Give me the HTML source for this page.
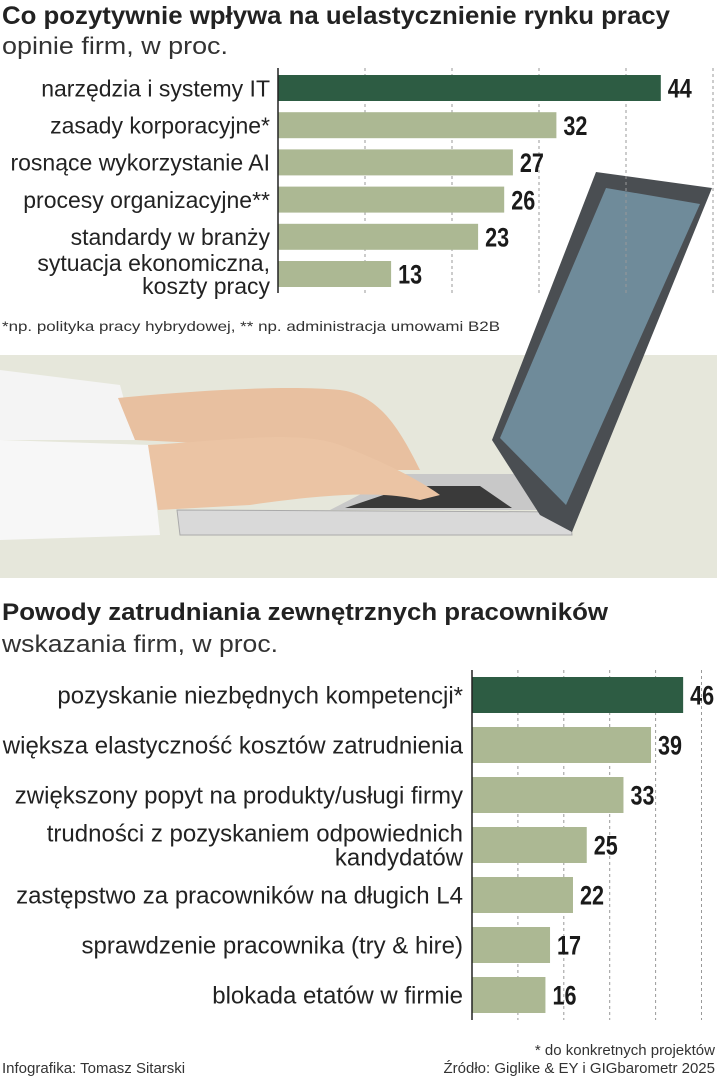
<!DOCTYPE html>
<html><head><meta charset="utf-8"><style>
html,body{margin:0;padding:0;background:#fff;}
svg{display:block;font-family:"Liberation Sans",sans-serif;}
</style></head><body>
<svg id="root" width="717" height="1080" viewBox="0 0 717 1080" xmlns="http://www.w3.org/2000/svg">
<text x="2" y="24" font-size="25" font-weight="bold" fill="#222" textLength="668" lengthAdjust="spacingAndGlyphs">Co pozytywnie wpływa na uelastycznienie rynku pracy</text>
<text x="2" y="54" font-size="24" fill="#333" textLength="226" lengthAdjust="spacingAndGlyphs">opinie firm, w proc.</text>

<g>
<rect x="0" y="355" width="717" height="223" fill="#e6e7db"/>
<polygon points="177,510 570,512 572,535 180,535" fill="#d9d9d9" stroke="#aaa"/>
<polygon points="400,474 520,474 540,510 330,510" fill="#c8c8c8"/>
<polygon points="410,486 480,486 512,508 345,508" fill="#3a3a3a"/>
<polygon points="596,172 712,188 572,532 540,515 492,440" fill="#4a4e52"/>
<polygon points="606,188 700,204 566,505 500,438" fill="#6f8b9a"/>
<path d="M0,370 L120,385 L135,440 L0,440 Z" fill="#f4f4f4"/>
<path d="M0,440 L150,445 L160,535 L0,540 Z" fill="#f7f7f7"/>
<path d="M118,398 C200,390 290,385 340,390 C380,395 400,430 420,470 L390,470 C340,450 250,445 135,440 Z" fill="#e8c0a0"/>
<path d="M148,445 C230,440 300,430 340,445 C380,460 420,480 440,495 L420,500 C380,490 320,495 250,505 L158,510 Z" fill="#ebc4a4"/>
</g>

<g id="chart1"></g>
<text x="2" y="331" font-size="14" fill="#333" textLength="498" lengthAdjust="spacingAndGlyphs">*np. polityka pracy hybrydowej, ** np. administracja umowami B2B</text>

<text x="2" y="620" font-size="24" font-weight="bold" fill="#222" textLength="606" lengthAdjust="spacingAndGlyphs">Powody zatrudniania zewnętrznych pracowników</text>
<text x="2" y="652" font-size="24" fill="#333" textLength="276" lengthAdjust="spacingAndGlyphs">wskazania firm, w proc.</text>
<g id="chart2"></g>

<text x="2" y="1073" font-size="15" fill="#333">Infografika: Tomasz Sitarski</text>
<text x="715" y="1055" font-size="15" fill="#333" text-anchor="end">* do konkretnych projektów</text>
<text x="715" y="1073" font-size="15" fill="#333" text-anchor="end">Źródło: Giglike &amp; EY i GIGbarometr 2025</text>
</svg>
<script>
var cats1 = [["narzędzia i systemy IT"],["zasady korporacyjne*"],["rosnące wykorzystanie AI"],["procesy organizacyjne**"],["standardy w branży"],["sytuacja ekonomiczna,","koszty pracy"]];
var vals1 = [44,32,27,26,23,13];
var cats2 = [["pozyskanie niezbędnych kompetencji*"],["większa elastyczność kosztów zatrudnienia"],["zwiększony popyt na produkty/usługi firmy"],["trudności z pozyskaniem odpowiednich","kandydatów"],["zastępstwo za pracowników na długich L4"],["sprawdzenie pracownika (try & hire)"],["blokada etatów w firmie"]];
var vals2 = [46,39,33,25,22,17,16];
var grid1 = [10,20,30,40,50];
var grid2 = [10,20,30,40,50];
var NS="http://www.w3.org/2000/svg";
function mk(t,a,p){var e=document.createElementNS(NS,t);for(var k in a)e.setAttribute(k,a[k]);p.appendChild(e);return e;}
function draw(gid,cats,vals,grid,o){
  var g=document.getElementById(gid);
  function x(v){return o.x0+v*o.ppu;}
  function y(i){return o.y0+i*o.pitch;}
  grid.forEach(function(v){
    var l=mk('line',{x1:x(v),x2:x(v),y1:o.top,y2:o.bot,stroke:'#999','stroke-dasharray':'3,3','stroke-width':1},g);
    
    
  });
  vals.forEach(function(v,i){
    var r=mk('rect',{x:o.x0,y:y(i),width:x(v)-o.x0,height:o.bh,fill:i==0?'#2d5c43':'#acb893'},g);
    
    
    var t=mk('text',{x:0,y:0,'font-size':o.vs,'font-weight':'bold',fill:'#1a1a1a',transform:'translate('+(x(v)+7)+','+(y(i)+o.bh/2+o.vs*0.36)+') scale(0.8,1)'},g);
    t.textContent=v;
    
    
    var lines=cats[i];
    lines.forEach(function(s,j){
      var cy=y(i)+o.bh/2+o.ls*0.36+(j-(lines.length-1)/2)*o.lh;
      var lt=mk('text',{x:o.lx,y:cy,'font-size':o.ls,fill:'#222','text-anchor':'end'},g);
      lt.textContent=s;
      
      
    });
  });
  var ax=mk('line',{x1:o.x0,x2:o.x0,y1:o.top,y2:o.bot,stroke:'#222','stroke-width':1.5},g);
  
  
}
draw('chart1',cats1,vals1,grid1,{x0:278,ppu:8.7,y0:75,pitch:37.2,bh:26,top:68,bot:293,lx:270,ls:23,lh:23,vs:27});
draw('chart2',cats2,vals2,grid2,{x0:472,ppu:4.59,y0:677,pitch:50,bh:36,top:670,bot:1020,lx:463,ls:24,lh:24,vs:27});
</script>
</body></html>
